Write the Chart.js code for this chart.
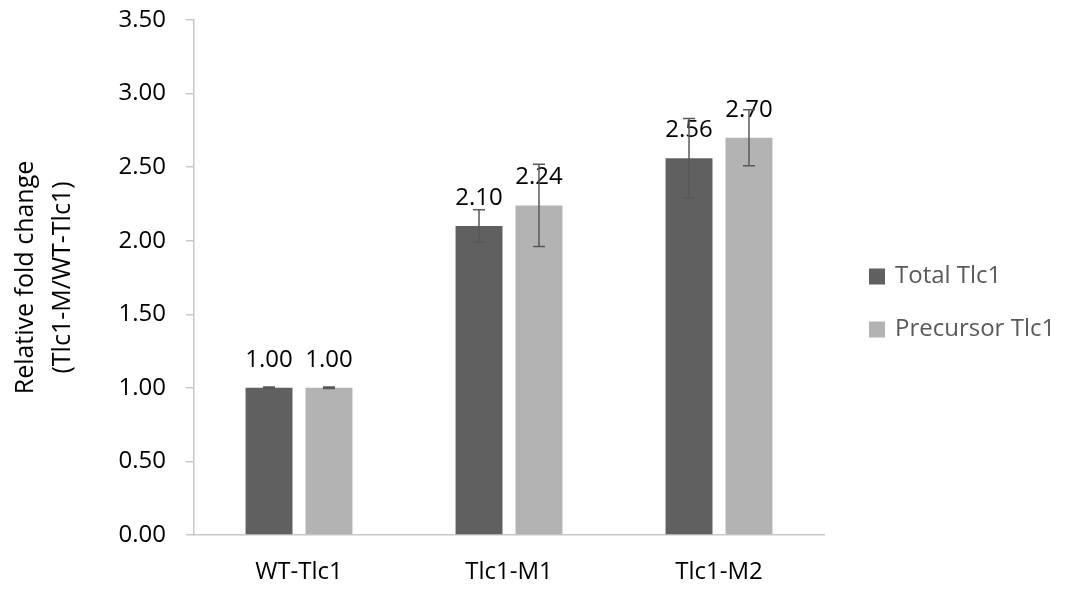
<!DOCTYPE html>
<html>
<head>
<meta charset="utf-8">
<script src="https://cdn.jsdelivr.net/npm/chart.js@4.4.1/dist/chart.umd.min.js"></script>
<style>
	html, body { margin:0; padding:0; background:#fff; }
	#wrap { width:1065px; height:590px; position:relative; }
</style>
</head>
<body>
<div id="wrap"><canvas id="chart" width="1065" height="590"></canvas></div>
<script>
// data
const categories = ['WT-Tlc1', 'Tlc1-M1', 'Tlc1-M2']
const seriesNames = ['Total Tlc1', 'Precursor Tlc1']
const totalValues = [1.00, 2.10, 2.56]
const precursorValues = [1.00, 2.24, 2.70]
const totalErrors = [0.005, 0.11, 0.27]
const precursorErrors = [0.005, 0.28, 0.19]
const yTicks = [0, 0.5, 1, 1.5, 2, 2.5, 3, 3.5]

const FONT = '"Open Sans"'
const errors = [totalErrors, precursorErrors]

// value labels + error bars, placed through the y scale
const labelPlugin = {
	id:'labelsAndErrors',
	afterDatasetsDraw(chart){
		const ctx = chart.ctx
		const y = chart.scales.y
		ctx.save()
		ctx.font = `24px ${FONT}`
		ctx.fillStyle = '#000'
		ctx.textAlign = 'center'
		ctx.textBaseline = 'middle'
		chart.data.datasets.forEach((ds, i) => {
			chart.getDatasetMeta(i).data.forEach((bar, j) => {
				ctx.fillText(ds.data[j].toFixed(2), bar.x, bar.y - 28)
			})
		})
		ctx.strokeStyle = '#595959'
		ctx.lineWidth = 1.5
		chart.data.datasets.forEach((ds, i) => {
			chart.getDatasetMeta(i).data.forEach((bar, j) => {
				const v = ds.data[j], e = errors[i][j]
				const top = y.getPixelForValue(v + e)
				const bot = y.getPixelForValue(v - e)
				ctx.beginPath()
				ctx.moveTo(bar.x, top); ctx.lineTo(bar.x, bot)
				ctx.moveTo(bar.x - 6, top); ctx.lineTo(bar.x + 6, top)
				ctx.moveTo(bar.x - 6, bot); ctx.lineTo(bar.x + 6, bot)
				ctx.stroke()
			})
		})
		ctx.restore()
	}
}

// legend on the right, drawn from the datasets
const sideLegend = {
	id:'sideLegend',
	afterDraw(chart){
		const ctx = chart.ctx
		const left = chart.chartArea.right + 45
		const mid = (chart.chartArea.top + chart.chartArea.bottom) / 2
		ctx.save()
		ctx.font = `24px ${FONT}`
		ctx.textBaseline = 'middle'
		ctx.textAlign = 'left'
		chart.data.datasets.forEach((ds, i) => {
			const cy = mid - 1 + i * 53
			ctx.fillStyle = ds.backgroundColor
			ctx.fillRect(left, cy - 8, 16, 16)
			ctx.fillStyle = '#595959'
			ctx.fillText(ds.label, left + 26, cy)
		})
		ctx.restore()
	}
}

new Chart(document.getElementById('chart'), {
	type:'bar',
	data:{
		labels:categories,
		datasets:[
			{ label:seriesNames[0], data:totalValues, backgroundColor:'#606060' },
			{ label:seriesNames[1], data:precursorValues, backgroundColor:'#b3b3b3' }
		]
	},
	options:{
		responsive:false,
		animation:false,
		categoryPercentage:0.571,
		barPercentage:0.783,
		layout:{ padding:{ top:20, right:241, bottom:0, left:0 } },
		plugins:{
			legend:{ display:false },
			tooltip:{ enabled:false }
		},
		scales:{
			x:{
				grid:{ display:false, drawTicks:false },
				border:{ display:true, color:'#c8c8c8', width:1.5 },
				ticks:{ color:'#000', padding:23, font:{ family:FONT, size:24 } },
				afterFit(s){ s.height = 55 }
			},
			y:{
				min:0,
				max:3.5,
				afterBuildTicks(s){ s.ticks = yTicks.map(v => ({ value:v })) },
				grid:{ display:true, drawOnChartArea:false, tickLength:8, color:'#c8c8c8', lineWidth:1.5 },
				border:{ display:true, color:'#c8c8c8', width:1.5 },
				ticks:{ color:'#000', padding:20, font:{ family:FONT, size:24 }, callback:v => Number(v).toFixed(2) },
				title:{
					display:true,
					text:['Relative fold change', '(Tlc1-M/WT-Tlc1)'],
					color:'#000',
					font:{ family:FONT, size:25, lineHeight:1.45 },
					padding:{ top:8, bottom:0 }
				},
				afterFit(s){
					s.width = 194
					s.paddingTop = 0
					s.paddingBottom = 0
				}
			}
		}
	},
	plugins:[labelPlugin, sideLegend]
})
</script>
</body>
</html>
